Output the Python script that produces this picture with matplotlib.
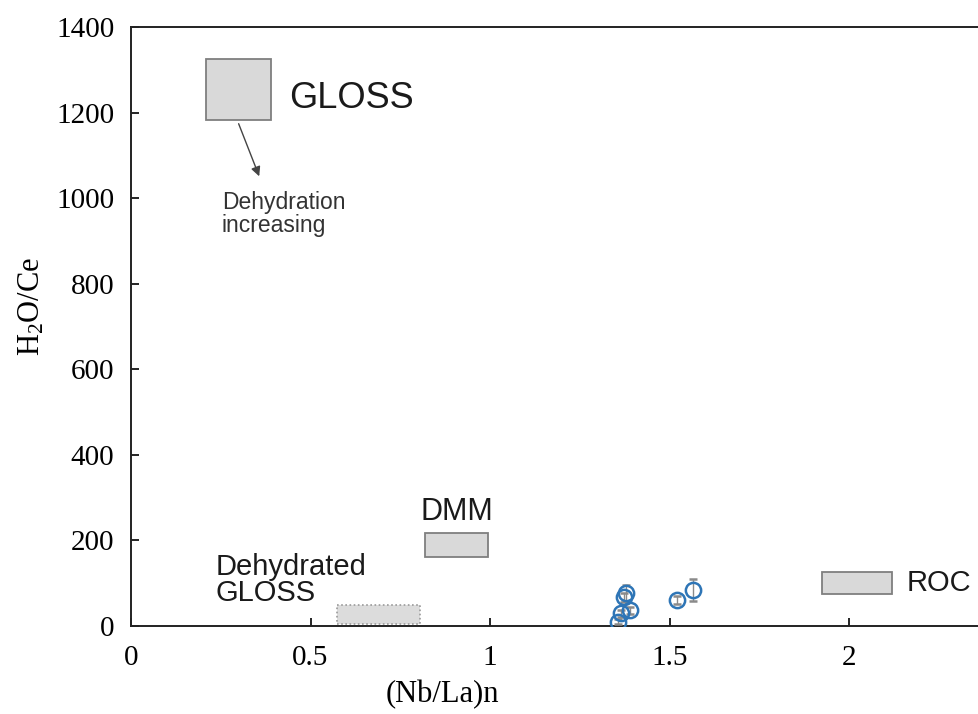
import matplotlib
matplotlib.use("Agg")
import matplotlib.pyplot as plt
from matplotlib.patches import Rectangle

# sample ratios with 1-sigma errors on H2O/Ce
nb_la = [1.356, 1.364, 1.390, 1.374, 1.380, 1.520, 1.566]
h2o_ce = [10, 30, 37, 67, 77, 61, 84]
h2o_ce_err = [6, 8, 8, 10, 18, 10, 25]

# reservoir fields: (x0, x1, y0, y1)
gloss_box = (0.21, 0.39, 1182, 1325)
dmm_box = (0.82, 0.995, 162, 218)
dehyd_gloss_box = (0.575, 0.805, 5, 50)
roc_box = (1.925, 2.12, 74, 127)

xticks = [0, 0.5, 1, 1.5, 2]
xtick_labels = ["0", "0.5", "1", "1.5", "2"]
yticks = [0, 200, 400, 600, 800, 1000, 1200, 1400]

serif = "Liberation Serif"
sans = "Liberation Sans"

fig = plt.figure(figsize=(9.79, 7.14), dpi=100)
ax = fig.add_axes([131 / 979, 88 / 714, 897.5 / 979, 599 / 714])
ax.set_xlim(0, 2.5)
ax.set_ylim(0, 1400)


def field(box, dotted=False):
    x0, x1, y0, y1 = box
    if dotted:
        r = Rectangle((x0, y0), x1 - x0, y1 - y0, facecolor="#dcdcdc",
                      edgecolor="#9a9a9a", lw=1.2, ls=(0, (1, 1.5)), zorder=2)
    else:
        r = Rectangle((x0, y0), x1 - x0, y1 - y0, facecolor="#d9d9d9",
                      edgecolor="#7f7f7f", lw=1.3, zorder=2)
    ax.add_patch(r)


field(gloss_box)
field(dmm_box)
field(dehyd_gloss_box, dotted=True)
field(roc_box)

ax.text(0.44, 1232, "GLOSS", family=sans, fontsize=26, va="center", ha="left", color="#1a1a1a")
ax.text(0.908, 232, "DMM", family=sans, fontsize=22, va="bottom", ha="center", color="#1a1a1a")
ax.text(0.235, 45, "Dehydrated\nGLOSS", family=sans, fontsize=21, va="bottom", ha="left",
        linespacing=0.92, color="#1a1a1a")
ax.text(2.16, 100, "ROC", family=sans, fontsize=21, va="center", ha="left", color="#1a1a1a")
ax.text(0.253, 910, "Dehydration\nincreasing", family=sans, fontsize=16.5, va="bottom", ha="left",
        linespacing=1.0, color="#333333")

ax.annotate("", xy=(0.36, 1045), xytext=(0.297, 1180),
            arrowprops=dict(arrowstyle="-|>", color="#444444", lw=1.0, mutation_scale=14))

ax.errorbar(nb_la, h2o_ce, yerr=h2o_ce_err, fmt="o", ms=11, mfc="none", mec="#2e75b6",
            mew=1.8, ecolor="#8a8a8a", elinewidth=1.0, capsize=3, capthick=1.0, zorder=4)

ax.set_xticks(xticks)
ax.set_xticklabels(xtick_labels, family=serif, fontsize=21)
ax.set_yticks(yticks)
ax.set_yticklabels([str(v) for v in yticks], family=serif, fontsize=21)
ax.tick_params(direction="in", length=6, width=1.2, top=False, right=False)
ax.tick_params(axis="x", pad=14)
ax.tick_params(axis="y", pad=12)

for side in ["left", "bottom", "top"]:
    ax.spines[side].set_linewidth(1.4)
    ax.spines[side].set_color("#222222")
ax.spines["right"].set_visible(False)

ax.set_xlabel("(Nb/La)n", family=serif, fontsize=22)
ax.xaxis.set_label_coords(311 / 897.5, -0.09)
ax.set_ylabel(r"$\mathregular{H_2O/Ce}$", family=serif, fontsize=22)
ax.yaxis.set_label_coords(-0.094, 0.533)

fig.savefig("out.png", dpi=100)
